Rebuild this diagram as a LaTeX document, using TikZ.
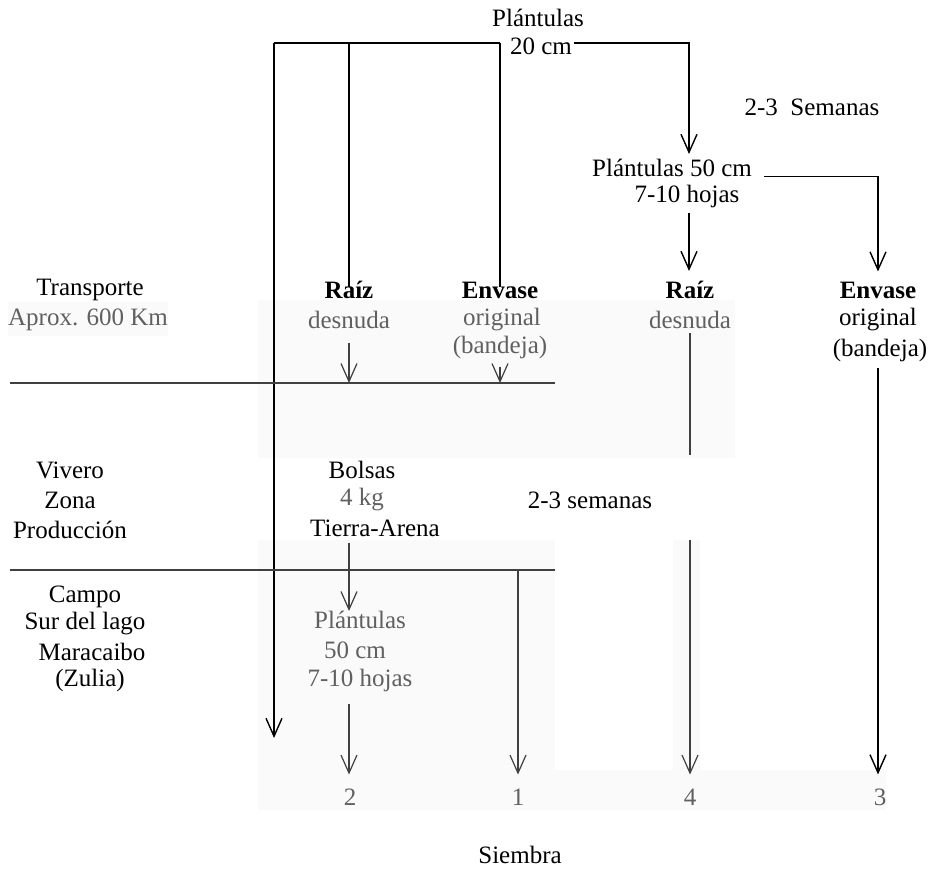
\documentclass[tikz,border=0pt]{standalone}
\usepackage{fontspec}
\setmainfont{Liberation Serif}
\usetikzlibrary{arrows.meta,calc}
\definecolor{txtgray}{HTML}{606060}
\definecolor{lngray}{HTML}{404040}
\definecolor{bgpatch}{HTML}{FAFAFA}
\begin{document}
\begin{tikzpicture}[x=1pt,y=-1pt,
  lbl/.style={inner sep=0pt, font=\fontsize{25}{29}\selectfont, text=black},
  grl/.style={lbl, text=txtgray},
  bl/.style={inner sep=0pt, font=\fontsize{25}{29}\selectfont\bfseries, text=black},
  ln/.style={line width=1.4pt, draw=black},
  lng/.style={line width=1.2pt, draw=lngray},
  arr/.style={-{Straight Barb[length=18pt,width=16pt]}},
  patch/.style={fill=bgpatch, draw=none}
]
\useasboundingbox (0,0) rectangle (936,872);
% faint scanned background patches
\fill[patch] (8,302) rectangle (168,336);
\fill[patch] (258,300) rectangle (735,458);
\fill[patch] (258,540) rectangle (555,810);
\fill[patch] (673,540) rectangle (700,770);
\fill[patch] (555,770) rectangle (886,810);

% texts
\node[lbl] (pl20) at (538,18) {Plántulas};
\node[lbl] (cm20) at (541,46) {20 cm};
\node[lbl] (sem1) at (812,107) {2-3\ \ Semanas};
\node[lbl] (pl50a) at (672,168) {Plántulas 50 cm};
\node[lbl] (pl50b) at (687,196) {7-10 hojas};
\node[lbl] (trans) at (90,290) {Transporte};
\node[grl] (aprox) at (88,320) {Aprox. 600 Km};
\node[bl] (raiz1) at (349,290) {Raíz};
\node[grl] (des1) at (349,320) {desnuda};
\node[bl] (env1) at (500,290) {Envase};
\node[grl] (ori1) at (502,320) {original};
\node[grl] (ban1) at (500,347) {(bandeja)};
\node[bl] (raiz2) at (690,290) {Raíz};
\node[grl] (des2) at (690,320) {desnuda};
\node[bl] (env2) at (878,290) {Envase};
\node[lbl] (ori2) at (878,320) {original};
\node[lbl] (ban2) at (880,350) {(bandeja)};
\node[lbl] (viv) at (70,470) {Vivero};
\node[lbl] (zona) at (70,500) {Zona};
\node[lbl] (prod) at (70,530) {Producción};
\node[lbl] (bol) at (362,470) {Bolsas};
\node[grl] (kg) at (362,500) {4 kg};
\node[lbl] (tierra) at (375,528) {Tierra-Arena};
\node[lbl] (sem2) at (590,500) {2-3 semanas};
\node[lbl] (campo) at (85,597) {Campo};
\node[lbl] (sur) at (85,624) {Sur del lago};
\node[lbl] (mara) at (92,652) {Maracaibo};
\node[lbl] (zulia) at (90,680) {(Zulia)};
\node[grl] (pl3a) at (360,620) {Plántulas};
\node[grl] (pl3b) at (355,650) {50 cm};
\node[grl] (pl3c) at (360,680) {7-10 hojas};
\node[grl] (n2) at (350,797) {2};
\node[grl] (n1) at (518,797) {1};
\node[grl] (n4) at (690,797) {4};
\node[grl] (n3) at (880,797) {3};
\node[lbl] (siem) at (520,855) {Siembra};

% junction coordinates
\coordinate (jL) at (274,43);
\coordinate (jM) at (349,43);
\coordinate (jR) at (500,43);
\coordinate (jE) at (689,43);
\coordinate (eL) at (274,738);
\coordinate (h1a) at (10,383);
\coordinate (h1b) at (555,383);
\coordinate (h2a) at (10,570);
\coordinate (h2b) at (555,570);
\coordinate (g4a) at (690,455);
\coordinate (g4b) at (690,540);

% top distribution
\draw[ln] (jR) -- (jL);
\draw[ln,arr] (jL) -- (eL);
\draw[ln] (jM) -- ([yshift=-6pt]raiz1.north);
\draw[ln] (jR) -- ([yshift=-6pt]env1.north);
\draw[ln,arr,shorten >=5pt] ([xshift=2pt]cm20.east |- jE) -- (jE) -- (pl50a.north -| jE);
\draw[ln,arr,shorten <=12pt,shorten >=10pt] (pl50a.base east) -| (env2.north);
\draw[ln,arr,shorten <=5pt,shorten >=10pt] (pl50b.south -| jE) -- (raiz2.north -| jE);

% horizontal separators
\draw[lng] (h1a) -- (h1b);
\draw[lng] (h2a) -- (h2b);

% transport arrows
\draw[lng,arr,shorten <=14pt] (des1.south) -- (des1.south |- h1a);
\draw[lng,arr,shorten <=8pt] (ban1.south) -- (ban1.south |- h1a);

% nursery and field
\draw[lng,arr,shorten <=6pt] (tierra.south -| jM) -- (pl3a.north -| jM);
\draw[lng,arr,shorten <=12pt,shorten >=14pt] (pl3c.south -| jM) -- (n2.north -| jM);
\draw[lng,arr,shorten >=14pt] (h2b -| n1) -- (n1.north);
\draw[lng] ([yshift=-4pt]des2.south) -- (g4a);
\draw[lng,arr,shorten >=14pt] (g4b) -- (n4.north);
\draw[ln,arr,shorten <=6pt,shorten >=14pt] (ban2.south -| ori2) -- (n3.north -| ori2);
\end{tikzpicture}
\end{document}
